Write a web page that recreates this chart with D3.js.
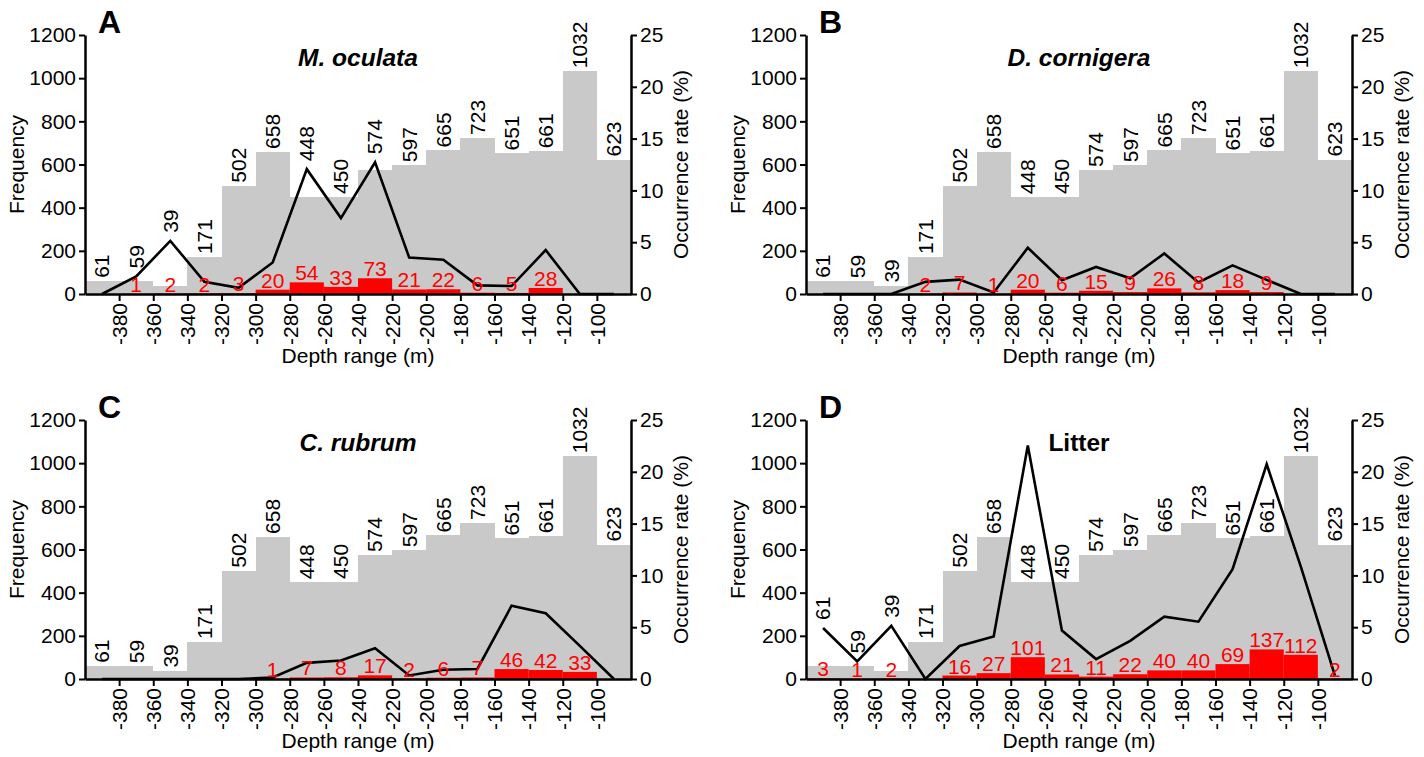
<!DOCTYPE html>
<html>
<head>
<meta charset="utf-8">
<style>
  body { margin: 0; background: #fff; }
  svg text { font-family: "Liberation Sans", Arial, sans-serif; }
</style>
</head>
<body>
<div class="container"></div>
<script src="https://d3js.org/d3.v7.min.js"></script>
<script>
    // depth bins (start of each 20 m bin) and axis ticks
    var binStart = [-400, -380, -360, -340, -320, -300, -280, -260, -240, -220, -200, -180, -160, -140, -120, -100];
    var depthTicks = [-380, -360, -340, -320, -300, -280, -260, -240, -220, -200, -180, -160, -140, -120, -100];
    var freqTicks = [0, 200, 400, 600, 800, 1000, 1200];
    var rateTicks = [0, 5, 10, 15, 20, 25];

    // frequency of images per depth bin (grey bars)
    var frequency = [61, 59, 39, 171, 502, 658, 448, 450, 574, 597, 665, 723, 651, 661, 1032, 623];

    // counts (red bars) and occurrence rate % (black line) per panel
    var countsA = [0, 1, 2, 2, 3, 20, 54, 33, 73, 21, 22, 6, 5, 28, 0, 0];
    var ratesA  = [0, 1.69, 5.13, 1.17, 0.60, 3.04, 12.05, 7.33, 12.72, 3.52, 3.31, 0.83, 0.77, 4.24, 0, 0];

    var countsB = [0, 0, 0, 2, 7, 1, 20, 6, 15, 9, 26, 8, 18, 9, 0, 0];
    var ratesB  = [0, 0, 0, 1.17, 1.39, 0.15, 4.46, 1.33, 2.61, 1.51, 3.91, 1.11, 2.76, 1.36, 0, 0];

    var countsC = [0, 0, 0, 0, 0, 1, 7, 8, 17, 2, 6, 7, 46, 42, 33, 0];
    var ratesC  = [0, 0, 0, 0, 0, 0.15, 1.56, 1.78, 2.96, 0.34, 0.90, 0.97, 7.07, 6.35, 3.20, 0];

    var countsD = [3, 1, 2, 0, 16, 27, 101, 21, 11, 22, 40, 40, 69, 137, 112, 2];
    var ratesD  = [4.92, 1.69, 5.13, 0, 3.19, 4.10, 22.54, 4.67, 1.92, 3.69, 6.02, 5.53, 10.60, 20.73, 10.85, 0.32];

    var panels = [
        { letter: 'A', title: 'M. oculata', italic: true, counts: countsA, rates: ratesA, left: 85, top: 35 },
        { letter: 'B', title: 'D. cornigera', italic: true, counts: countsB, rates: ratesB, left: 806, top: 35 },
        { letter: 'C', title: 'C. rubrum', italic: true, counts: countsC, rates: ratesC, left: 85, top: 420 },
        { letter: 'D', title: 'Litter', italic: false, counts: countsD, rates: ratesD, left: 806, top: 420 }
    ];

    var W = 546, H = 259;
    var grey = '#c9c9c9', red = '#ff0000';

    var svg = d3.select('.container')
                .append('svg')
                .attr('width', 1424)
                .attr('height', 757);

    var x = d3.scaleLinear().domain([-400, -80]).range([0, W]);
    var yF = d3.scaleLinear().domain([0, 1200]).range([H, 0]);
    var yR = d3.scaleLinear().domain([0, 25]).range([H, 0]);
    var plain = function(d) { return String(d); };

    function styleAxis(a) {
        a.select('.domain').attr('stroke-width', 2.5);
        a.selectAll('.tick line').attr('stroke-width', 2);
        a.selectAll('.tick text').attr('font-size', 21).attr('fill', '#000')
         .attr('font-family', '"Liberation Sans", Arial, sans-serif');
    }

    function drawPanel(p) {
        var g = svg.append('g').attr('transform', 'translate(' + p.left + ',' + p.top + ')');
        var bins = binStart.map(function(d, i) {
            return { x0: d, f: frequency[i], c: p.counts[i], r: p.rates[i] };
        });

        g.selectAll('rect.grey').data(bins).enter().append('rect')
            .attr('class', 'grey')
            .attr('x', function(d) { return x(d.x0); })
            .attr('width', function(d) { return x(d.x0 + 20) - x(d.x0); })
            .attr('y', function(d) { return yF(d.f); })
            .attr('height', function(d) { return H - yF(d.f); })
            .attr('fill', grey)
            .attr('shape-rendering', 'crispEdges');

        g.selectAll('rect.red').data(bins.filter(function(d) { return d.c > 0; })).enter().append('rect')
            .attr('class', 'red')
            .attr('x', function(d) { return x(d.x0); })
            .attr('width', function(d) { return x(d.x0 + 20) - x(d.x0); })
            .attr('y', function(d) { return yF(d.c); })
            .attr('height', function(d) { return Math.max(H - yF(d.c), 1); })
            .attr('fill', red);

        var line = d3.line()
            .x(function(d) { return x(d.x0 + 10); })
            .y(function(d) { return yR(d.r); });
        g.append('path').datum(bins)
            .attr('d', line)
            .attr('fill', 'none')
            .attr('stroke', '#000')
            .attr('stroke-width', 2.6);

        // grey bar labels, lifted over the line when it sits just above the bar
        g.selectAll('text.flab').data(bins).enter().append('text')
            .attr('class', 'flab')
            .attr('transform', function(d) {
                var top = yF(d.f), ly = yR(d.r);
                var base = top - 3;
                if (ly < top + 8 && top - ly < 60) base = Math.min(base, ly - 8);
                return 'translate(' + x(d.x0 + 10) + ',' + base + ') rotate(-90)';
            })
            .attr('dy', '0.35em')
            .attr('font-size', 21)
            .attr('text-anchor', 'start')
            .text(function(d) { return d.f; });

        g.selectAll('text.clab').data(bins.filter(function(d) { return d.c > 0; })).enter().append('text')
            .attr('class', 'clab')
            .attr('x', function(d) { return x(d.x0 + 10); })
            .attr('y', function(d) { return yF(d.c) - 2; })
            .attr('font-size', 21)
            .attr('fill', red)
            .attr('text-anchor', 'middle')
            .text(function(d) { return d.c; });

        var ax = g.append('g').attr('transform', 'translate(0,' + H + ')')
            .call(d3.axisBottom(x).tickValues(depthTicks).tickFormat(plain).tickSize(7).tickSizeOuter(0));
        styleAxis(ax);
        ax.selectAll('.tick text')
            .attr('transform', 'rotate(-90)')
            .attr('x', -9).attr('y', 0).attr('dy', '0.35em')
            .attr('text-anchor', 'end');

        var al = g.append('g')
            .call(d3.axisLeft(yF).tickValues(freqTicks).tickFormat(plain).tickSize(6).tickSizeOuter(0).tickPadding(3));
        styleAxis(al);

        var ar = g.append('g').attr('transform', 'translate(' + W + ',0)')
            .call(d3.axisRight(yR).tickValues(rateTicks).tickFormat(plain).tickSize(6).tickSizeOuter(0).tickPadding(3));
        styleAxis(ar);

        g.append('text')
            .attr('transform', 'translate(-61,' + (H / 2) + ') rotate(-90)')
            .attr('text-anchor', 'middle').attr('font-size', 21)
            .text('Frequency');
        g.append('text')
            .attr('transform', 'translate(' + (W + 57) + ',' + (H / 2) + ') rotate(-90)')
            .attr('text-anchor', 'middle').attr('font-size', 21)
            .text('Occurrence rate (%)');
        g.append('text')
            .attr('x', W / 2).attr('y', H + 69)
            .attr('text-anchor', 'middle').attr('font-size', 21)
            .text('Depth range (m)');

        g.append('text')
            .attr('x', 13).attr('y', -2)
            .attr('font-size', 32).attr('font-weight', 'bold')
            .text(p.letter);
        g.append('text')
            .attr('x', W / 2).attr('y', 31)
            .attr('text-anchor', 'middle').attr('font-size', 24.5)
            .attr('font-weight', 'bold')
            .attr('font-style', p.italic ? 'italic' : 'normal')
            .text(p.title);
    }

    panels.forEach(drawPanel);
</script>
</body>
</html>
